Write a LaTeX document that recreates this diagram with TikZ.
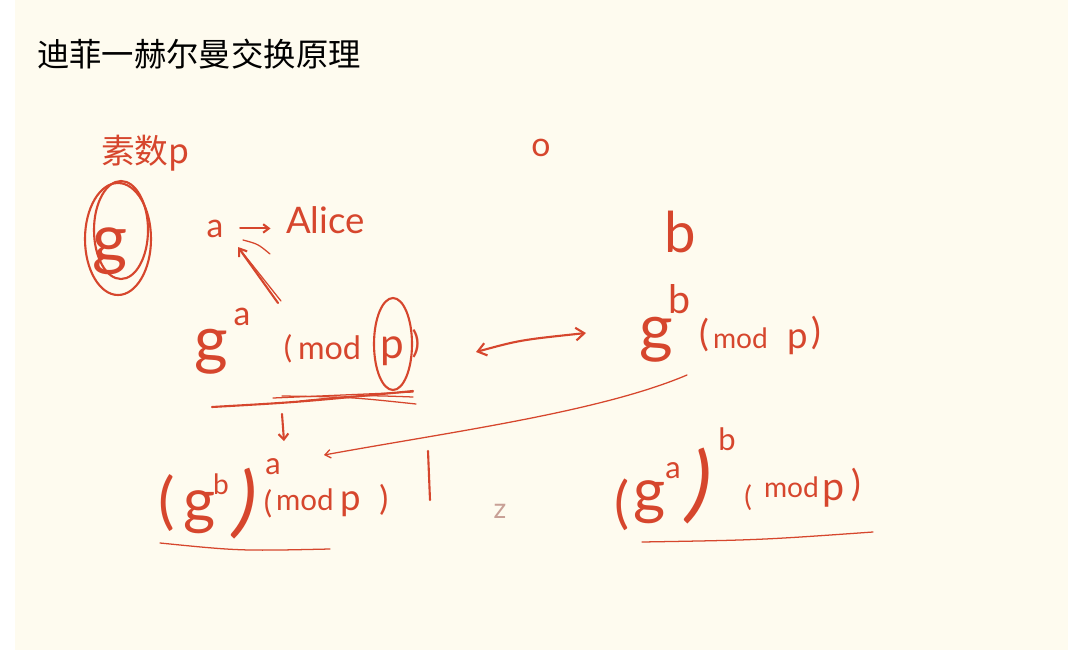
\documentclass[tikz,border=0pt]{standalone}
\usepackage{fontspec}
\setmainfont{Lato}
\newfontfamily\cjk{Noto Sans CJK SC}
\usetikzlibrary{arrows.meta,shapes.geometric}
\definecolor{hand}{RGB}{214,70,45}
\definecolor{paper}{RGB}{254,251,239}
\definecolor{faint}{RGB}{200,160,150}
\newcommand{\fs}[1]{\fontsize{#1}{#1}\selectfont}
\begin{document}
\begin{tikzpicture}[x=0.025cm,y=-0.025cm,
  hw/.style={text=hand,inner sep=0pt,outer sep=0pt},
  ink/.style={draw=hand,line width=1.5pt,line cap=round,line join=round},
  fine/.style={draw=hand,line width=0.9pt,line cap=round,line join=round},
  barb/.style={-{Straight Barb[length=5pt,width=7pt]}}]
\fill[white] (0,0) rectangle (1080,659);
\fill[paper] (15,0) rectangle (1068,650);
\useasboundingbox (0,0) rectangle (1080,659);

% title
\node[anchor=base west,inner sep=0pt,font=\cjk\fs{23}] (title) at (37,66) {迪菲一赫尔曼交换原理};

% prime p and g
\node[hw,anchor=base west,font=\cjk\fs{24}] (prime) at (101,163) {素数p};
\node[hw,anchor=base,font=\fs{48}] (g) at (110,262) {g};
\draw[ink] (118,239) ellipse [x radius=33,y radius=56];
\draw[ink] (121,230) ellipse [x radius=27,y radius=49];

% a -> Alice
\node[hw,anchor=base,font=\fs{24}] (a) at (215,237) {a};
\node[hw,anchor=base west,font=\fs{26}] (alice) at (286,233) {Alice};
\draw[ink,-{Straight Barb[length=4pt,width=6pt]},shorten <=12pt,shorten >=11pt] (a.east) -- (a.east -| alice.west);

% g^a (mod p)
\node[hw,anchor=base,font=\fs{46}] (ga) at (211,362) {g};
\node[hw,anchor=base,font=\fs{24}] (gasup) at (242,325) {a};
\node[hw,font=\fs{22}] (lp1) at (288,349) {(};
\node[hw,anchor=base west,font=\fs{23}] (mod1) at (298,359) {mod};
\node[hw,anchor=base,font=\fs{30}] (p1) at (392,358) {p};
\node[hw,font=\fs{22}] (rp1) at (416,344) {)};
\draw[ink] (393,344) ellipse [x radius=19,y radius=46];
\coordinate (s1) at (278,303);
\coordinate (tipA) at (238,247);
\draw[ink,barb] (s1) -- (tipA);
\draw[fine] (281,301) -- (242,252);
\draw[fine] (243,240) .. controls (258,244) .. (270,254);
% underlines
\draw[ink] (212,407) .. controls (300,402) .. (413,391);
\draw[fine] (273,398) -- (413,392);
\draw[fine] (282,396) .. controls (350,397) .. (416,404);
\draw[fine] (300,401) .. controls (360,395) .. (413,397);

% double arrow
\coordinate (dl) at (476,352);
\coordinate (dr) at (586,333);
\draw[ink,{Straight Barb[length=6pt,width=9pt]}-{Straight Barb[length=6pt,width=9pt]}] (dl) .. controls (520,340) .. (dr);

% o and b
\node[hw,font=\fs{24}] (o) at (541,148) {o};
\node[hw,anchor=base,font=\fs{40}] (b) at (680,252) {b};

% g^b (mod p)
\node[hw,anchor=base,font=\fs{46}] (gb) at (656,350) {g};
\node[hw,anchor=base,font=\fs{28}] (gbsup) at (680,313) {b};
\node[hw,font=\fs{26}] (lp2) at (704,335) {(};
\node[hw,anchor=base west,font=\fs{20}] (mod2) at (713,348) {mod};
\node[hw,anchor=base,font=\fs{26}] (p2) at (798,348) {p};
\node[hw,font=\fs{26}] (rp2) at (816,333) {)};

% curve from g^b down to (g^b)^a
\coordinate (cs) at (687,375);
\coordinate (ce) at (324,455);
\draw[fine,-{Straight Barb[length=4pt,width=6pt]}] (cs) .. controls (600,412) and (450,432) .. (ce);

% small down arrow
\coordinate (da1) at (282,414);
\coordinate (da2) at (284,441);
\draw[ink,-{Straight Barb[length=4pt,width=7pt]}] (da1) -- (da2);

% (g^b)^a (mod p)
\node[hw,font=\fs{44}] (lp3) at (167,503) {(};
\node[hw,anchor=base,font=\fs{44}] (gba) at (200,522) {g};
\node[hw,anchor=base,font=\fs{20}] (gbasup1) at (221,494) {b};
\node[hw,font=\fs{56},rotate=-12] (rp3) at (246,504) {)};
\node[hw,anchor=base,font=\fs{22}] (gbasup2) at (273,474) {a};
\node[hw,font=\fs{22}] (lp4) at (268,504) {(};
\node[hw,anchor=base west,font=\fs{21}] (mod3) at (276,510) {mod};
\node[hw,anchor=base,font=\fs{26}] (p3) at (351,510) {p};
\node[hw,font=\fs{24}] (rp4) at (384,500) {)};
\draw[fine] (160,543) .. controls (240,551) .. (330,549);
\draw[ink] (428,451) -- (430,500);
\node[text=faint,font=\fs{20}] (z) at (500,511) {z};

% (g^a)^b (mod p)
\node[hw,font=\fs{40}] (lp5) at (622,505) {(};
\node[hw,anchor=base,font=\fs{44}] (gab) at (650,512) {g};
\node[hw,anchor=base,font=\fs{22}] (gabsup1) at (673,478) {a};
\node[hw,font=\fs{60},rotate=-12] (rp5) at (700,487) {)};
\node[hw,anchor=base,font=\fs{22}] (gabsup2) at (727,450) {b};
\node[hw,font=\fs{20}] (lp6) at (748,498) {(};
\node[hw,anchor=base west,font=\fs{20}] (mod4) at (764,497) {mod};
\node[hw,anchor=base,font=\fs{28}] (p4) at (834,500) {p};
\node[hw,font=\fs{26}] (rp6) at (856,485) {)};
\draw[fine] (642,542) .. controls (760,540) .. (873,532);
\end{tikzpicture}
\end{document}
